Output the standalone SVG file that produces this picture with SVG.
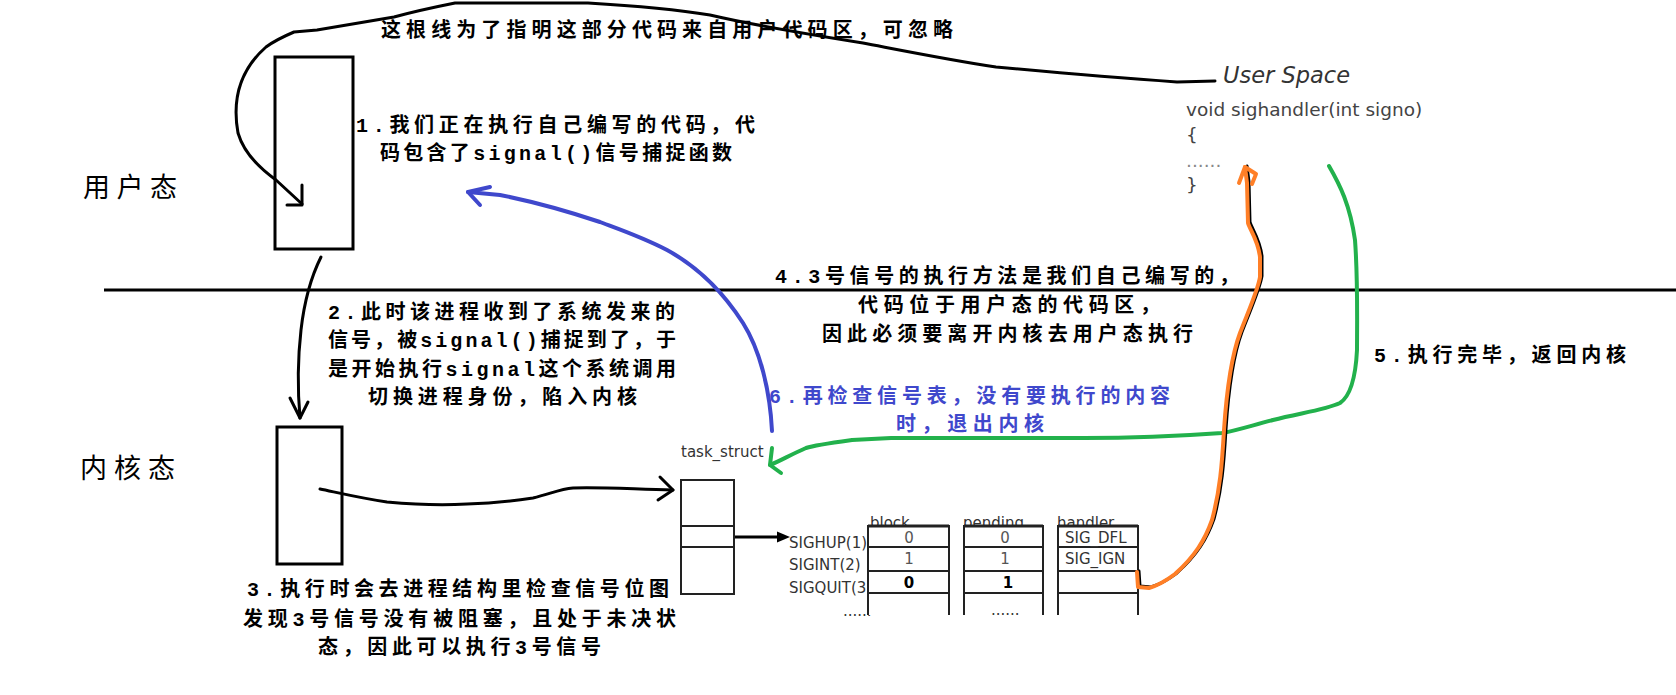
<svg xmlns="http://www.w3.org/2000/svg" width="1676" height="695" viewBox="0 0 1676 695">
<style>
.cn{font-family:'Liberation Mono','Noto Sans CJK SC',monospace;font-size:20px;font-weight:bold;fill:#000}
.blue{fill:#3f48cc}
.side{font-family:'Noto Sans CJK SC',sans-serif;font-size:27px;fill:#000}
.dv{font-family:'DejaVu Sans',sans-serif}
.lbl{font-family:'DejaVu Sans',sans-serif;font-size:15px;fill:#333}
.val{font-family:'DejaVu Sans',sans-serif;font-size:15px;fill:#555;text-anchor:middle}
.valb{font-family:'DejaVu Sans',sans-serif;font-size:15px;fill:#000;font-weight:bold;text-anchor:middle}
.box{fill:none;stroke:#000;stroke-width:3}
.ink{fill:none;stroke:#000;stroke-width:3;stroke-linecap:round;stroke-linejoin:round}
.inkb{fill:none;stroke:#3f48cc;stroke-width:4;stroke-linecap:round;stroke-linejoin:round}
.inkg{fill:none;stroke:#22b14c;stroke-width:4;stroke-linecap:round;stroke-linejoin:round}
.inko{fill:none;stroke:#ff7f27;stroke-width:4;stroke-linecap:round;stroke-linejoin:round}
.tl{stroke:#222;stroke-width:2;fill:none}
</style>
<rect width="1676" height="695" fill="#fff"/>

<g id="divider">
<line x1="104" y1="290" x2="1676" y2="290" stroke="#000" stroke-width="3"/>
</g>

<g id="labels-side">
<text class="side" x="83" y="197" textLength="94">用户态</text>
<text class="side" x="80" y="478" textLength="95">内核态</text>
</g>

<g id="note-top">
<text class="cn" x="381" y="37" textLength="572">这根线为了指明这部分代码来自用户代码区，可忽略</text>
</g>

<g id="user-block">
<rect class="box" x="275" y="57" width="78" height="192"/>
</g>

<g id="kernel-block">
<rect class="box" x="277" y="427" width="65" height="137"/>
</g>

<g id="note-1">
<text class="cn" x="356" y="132" textLength="399">1.我们正在执行自己编写的代码，代</text>
<text class="cn" x="380" y="160" textLength="352">码包含了signal()信号捕捉函数</text>
</g>

<g id="note-2">
<text class="cn" x="328" y="319" textLength="347">2.此时该进程收到了系统发来的</text>
<text class="cn" x="328" y="347" textLength="348">信号，被signal()捕捉到了，于</text>
<text class="cn" x="328" y="376" textLength="348">是开始执行signal这个系统调用</text>
<text class="cn" x="368" y="404" textLength="269">切换进程身份，陷入内核</text>
</g>

<g id="note-3">
<text class="cn" x="247" y="596" textLength="422">3.执行时会去进程结构里检查信号位图</text>
<text class="cn" x="243" y="626" textLength="433">发现3号信号没有被阻塞，且处于未决状</text>
<text class="cn" x="318" y="654" textLength="283">态，因此可以执行3号信号</text>
</g>

<g id="note-4">
<text class="cn" x="775" y="283" textLength="464">4.3号信号的执行方法是我们自己编写的，</text>
<text class="cn" x="858" y="312" textLength="302">代码位于用户态的代码区，</text>
<text class="cn" x="822" y="341" textLength="371">因此必须要离开内核去用户态执行</text>
</g>

<g id="note-5">
<text class="cn" x="1374" y="362" textLength="252">5.执行完毕，返回内核</text>
</g>

<g id="note-6">
<text class="cn blue" x="769" y="403" textLength="401">6.再检查信号表，没有要执行的内容</text>
<text class="cn blue" x="896" y="431" textLength="148">时，退出内核</text>
</g>

<g id="user-space">
<text class="dv" x="1223" y="83" font-size="22.5" font-style="italic" fill="#333">User Space</text>
<text class="dv" x="1186" y="116" font-size="18.5" fill="#444">void sighandler(int signo)</text>
<text class="dv" x="1186" y="141" font-size="18.5" fill="#444">{</text>
<text class="dv" x="1186" y="167" font-size="18.5" fill="#888">......</text>
<text class="dv" x="1186" y="191" font-size="18.5" fill="#444">}</text>
</g>

<g id="task-struct">
<text class="lbl" x="681" y="457" fill="#444">task_struct</text>
<rect x="681" y="480" width="53" height="114" fill="#fff" stroke="#222" stroke-width="2"/>
<line class="tl" x1="681" y1="480" x2="734" y2="480" stroke-width="3"/>
<line class="tl" x1="681" y1="526" x2="734" y2="526"/>
<line class="tl" x1="681" y1="547" x2="734" y2="547"/>
</g>

<g id="signal-table">
<text class="lbl" x="789" y="548" font-size="15.6">SIGHUP(1)</text>
<text class="lbl" x="789" y="570" font-size="15.6">SIGINT(2)</text>
<text class="lbl" x="789" y="593" font-size="15.6">SIGQUIT(3)</text>
<text class="lbl" x="843" y="616" fill="#777">......</text>
<text class="lbl" x="870" y="528" fill="#444">block</text>
<text class="lbl" x="963" y="528" fill="#444">pending</text>
<text class="lbl" x="1057" y="528" fill="#444">handler</text>
<rect x="868" y="526" width="81" height="89" fill="#fff"/>
<rect x="964" y="526" width="79" height="89" fill="#fff"/>
<rect x="1058" y="526" width="80" height="89" fill="#fff"/>
<g class="tl">
<path d="M868 615V526H949V615M964 615V526H1043V615M1058 615V526H1138V615" stroke-width="2"/>
<path d="M868 526H949M964 526H1043M1058 526H1138" stroke-width="3"/>
<path d="M868 547H949M964 547H1043M1058 547H1138M868 571H949M964 571H1043M1058 571H1138M868 593H949M964 593H1043M1058 593H1138"/>
</g>
<text class="val" x="909" y="543">0</text>
<text class="val" x="909" y="564">1</text>
<text class="valb" x="909" y="588">0</text>
<text class="val" x="1005" y="543">0</text>
<text class="val" x="1005" y="564">1</text>
<text class="valb" x="1008" y="588">1</text>
<text class="lbl" x="1065" y="543" fill="#444">SIG_DFL</text>
<text class="lbl" x="1065" y="564" fill="#444">SIG_IGN</text>
<text class="lbl" x="991" y="615" fill="#777">......</text>
</g>

<g id="connectors">
<path class="ink" d="M1215 81 L1177 82 C1120 78 1050 72 996 67 C950 60 900 50 863 43 C800 33 740 22 710 15 C680 10 640 6 588 3 L455 3 C430 8 405 14 394 17 L317 30 L294 32 C280 38 270 44 266 47 C240 70 232 100 238 133 C243 150 255 165 276 180 L302 204"/>
<path class="ink" d="M302 185 L302 205 L287 205"/>
<path class="ink" d="M321 257 C312 275 305 295 301 330 C297 365 298 395 300 418"/>
<path class="ink" d="M290 398 L300 418 L308 402"/>
<path class="ink" d="M320 489 C335 492 360 498 387 502 C420 505 450 505 467 504 C500 503 520 500 533 498 C550 494 560 489 573 488 C600 487 630 489 673 490"/>
<path class="ink" stroke-width="4" d="M660 477 L673 490 L658 500"/>
<line x1="735" y1="537" x2="779" y2="537" stroke="#000" stroke-width="3"/>
<path d="M777 531.5 L790 537 L777 542.5 Z" fill="#000"/>
<path class="inkb" d="M772 431 C770 390 760 350 743 323 C725 295 700 268 667 250 C640 236 610 226 600 222 C570 212 540 203 500 195 L468 192"/>
<path class="inkb" d="M490 187 L468 192 L480 205"/>
<path class="inkg" d="M1329 166 C1340 185 1350 205 1355 240 C1358 280 1357 330 1357 350 C1356 370 1352 395 1340 403 C1325 410 1300 413 1273 420 C1250 426 1235 431 1222 433 C1180 436 1120 438 1084 438 L891 438 L852 440 C830 443 815 445 806 448 C790 455 780 461 770 465"/>
<path class="inkg" d="M772 448 L770 465 L781 473"/>
<path class="ink" stroke-width="4" transform="translate(2,-1)" d="M1137 572 L1138 587 L1149 588 C1160 585 1167 580 1175 574 C1195 556 1205 540 1212 520 C1220 490 1222 465 1224 430 C1226 400 1230 360 1240 333 C1248 312 1258 290 1260 277 L1260 257 C1258 240 1250 230 1248 223 L1247 183 L1245 167"/>
<path class="inko" d="M1137 572 L1138 587 L1149 588 C1160 585 1167 580 1175 574 C1195 556 1205 540 1212 520 C1220 490 1222 465 1224 430 C1226 400 1230 360 1240 333 C1248 312 1258 290 1260 277 L1260 257 C1258 240 1250 230 1248 223 L1247 183 L1245 167"/>
<path class="inko" d="M1239 183 L1245 167 L1256 174 L1252 184"/>
</g>
</svg>
